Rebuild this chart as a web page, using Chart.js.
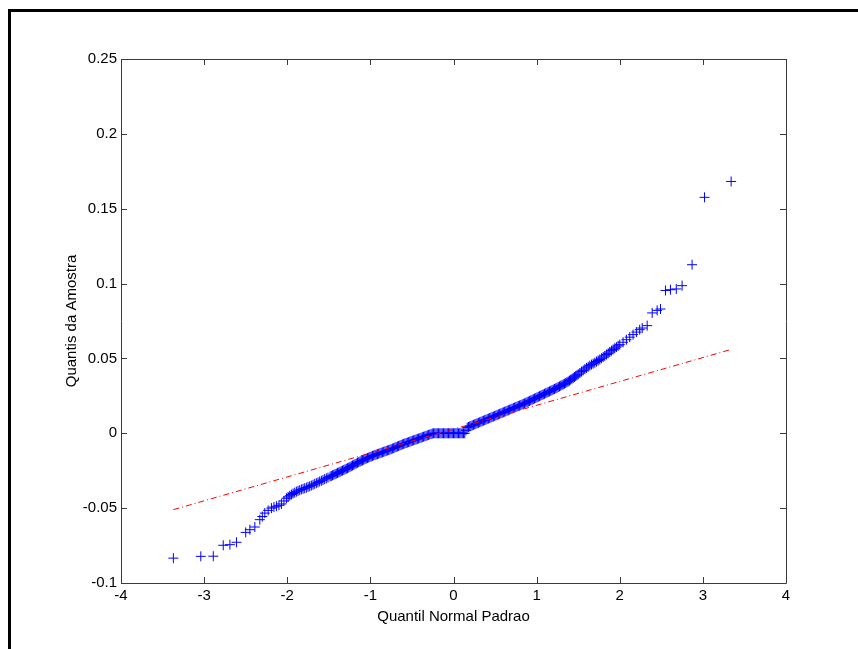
<!DOCTYPE html>
<html>
<head>
<meta charset="utf-8">
<title>Quantis da Amostra x Quantil Normal Padrao</title>
<script src="https://cdn.jsdelivr.net/npm/chart.js@4/dist/chart.umd.min.js"></script>
<style>
  html, body { margin: 0; padding: 0; background: #fff; }
  body { width: 858px; height: 649px; position: relative; overflow: hidden; }
  #frame {
    position: absolute; left: 8px; top: 9px; width: 900px; height: 700px;
    border-left: 3px solid #000; border-top: 3px solid #000;
  }
  #qq { position: absolute; left: 0; top: 0; }
</style>
</head>
<body>
<div id="frame"></div>
<canvas id="qq" width="858" height="649"></canvas>
<script>
// quantis da normal padrao (x) e quantis da amostra (y), por trecho da curva

// cauda inferior
var tailLowX = [
  -3.37, -3.04, -2.89, -2.77, -2.69, -2.61, -2.50, -2.45, -2.39, -2.33,
  -2.30, -2.27, -2.23, -2.19, -2.16, -2.13, -2.10, -2.07, -2.04, -2.01
];
var tailLowY = [
  -0.0834, -0.0822, -0.0821, -0.0748, -0.0744, -0.0728, -0.0662, -0.0644, -0.0626, -0.0577,
  -0.0556, -0.0533, -0.0515, -0.0500, -0.0493, -0.0487, -0.0481, -0.0472, -0.0452, -0.0434
];

var bandLowX = [
  -1.99, -1.97, -1.95, -1.93, -1.91, -1.89, -1.87, -1.85, -1.83, -1.81,
  -1.79, -1.77, -1.75, -1.73, -1.71, -1.69, -1.67, -1.65, -1.63, -1.61,
  -1.59, -1.57, -1.55, -1.53, -1.51
];
var bandLowY = [
  -0.0425, -0.0417, -0.0409, -0.0402, -0.0396, -0.0390, -0.0385, -0.0380, -0.0375, -0.0371,
  -0.0367, -0.0363, -0.0358, -0.0354, -0.0349, -0.0344, -0.0338, -0.0333, -0.0328, -0.0322,
  -0.0317, -0.0312, -0.0306, -0.0301, -0.0296
];

// miolo denso (inclui o patamar em zero)
var bandMidX = [
  -1.485, -1.470, -1.455, -1.440, -1.425, -1.410, -1.395, -1.380, -1.365, -1.350,
  -1.335, -1.320, -1.305, -1.290, -1.275, -1.260, -1.245, -1.230, -1.215, -1.200,
  -1.185, -1.170, -1.155, -1.140, -1.125, -1.110, -1.095, -1.080, -1.065, -1.050,
  -1.035, -1.020, -1.005, -0.990, -0.975, -0.960, -0.945, -0.930, -0.915, -0.900,
  -0.885, -0.870, -0.855, -0.840, -0.825, -0.810, -0.795, -0.780, -0.765, -0.750,
  -0.735, -0.720, -0.705, -0.690, -0.675, -0.660, -0.645, -0.630, -0.615, -0.600,
  -0.585, -0.570, -0.555, -0.540, -0.525, -0.510, -0.495, -0.480, -0.465, -0.450,
  -0.435, -0.420, -0.405, -0.390, -0.375, -0.360, -0.345, -0.330, -0.315, -0.300,
  -0.285, -0.270, -0.255, -0.240, -0.225, -0.210, -0.195, -0.180, -0.165, -0.150,
  -0.135, -0.120, -0.105, -0.090, -0.075, -0.060, -0.045, -0.030, -0.015, 0.000,
  0.015, 0.030, 0.045, 0.060, 0.075, 0.090, 0.105, 0.120, 0.135, 0.150,
  0.165, 0.180, 0.195, 0.210, 0.225, 0.240, 0.255, 0.270, 0.285, 0.300,
  0.315, 0.330, 0.345, 0.360, 0.375, 0.390, 0.405, 0.420, 0.435, 0.450,
  0.465, 0.480, 0.495, 0.510, 0.525, 0.540, 0.555, 0.570, 0.585, 0.600,
  0.615, 0.630, 0.645, 0.660, 0.675, 0.690, 0.705, 0.720, 0.735, 0.750,
  0.765, 0.780, 0.795, 0.810, 0.825, 0.840, 0.855, 0.870, 0.885, 0.900,
  0.915, 0.930, 0.945, 0.960, 0.975, 0.990, 1.005, 1.020, 1.035, 1.050,
  1.065, 1.080, 1.095, 1.110, 1.125, 1.140, 1.155, 1.170, 1.185, 1.200,
  1.215, 1.230, 1.245, 1.260, 1.275, 1.290, 1.305, 1.320, 1.335, 1.350,
  1.365, 1.380, 1.395, 1.410, 1.425, 1.440, 1.455, 1.470, 1.485, 1.500
];
var bandMidY = [
  -0.0289, -0.0285, -0.0281, -0.0277, -0.0273, -0.0269, -0.0265, -0.0261, -0.0257, -0.0253,
  -0.0249, -0.0245, -0.0241, -0.0237, -0.0233, -0.0229, -0.0224, -0.0220, -0.0215, -0.0211,
  -0.0206, -0.0202, -0.0197, -0.0193, -0.0189, -0.0185, -0.0181, -0.0177, -0.0173, -0.0169,
  -0.0165, -0.0162, -0.0158, -0.0155, -0.0151, -0.0148, -0.0145, -0.0142, -0.0139, -0.0136,
  -0.0133, -0.0130, -0.0127, -0.0124, -0.0121, -0.0118, -0.0115, -0.0112, -0.0109, -0.0106,
  -0.0102, -0.0099, -0.0095, -0.0092, -0.0088, -0.0085, -0.0081, -0.0078, -0.0074, -0.0071,
  -0.0068, -0.0065, -0.0062, -0.0059, -0.0056, -0.0053, -0.0050, -0.0047, -0.0044, -0.0041,
  -0.0038, -0.0035, -0.0032, -0.0029, -0.0026, -0.0023, -0.0020, -0.0017, -0.0014, -0.0011,
  -0.0008, -0.0005, -0.0002, 0, 0, 0, 0, 0, 0, 0,
  0, 0, 0, 0, 0, 0, 0, 0, 0, 0,
  0, 0, 0, 0, 0, 0, 0, 0, 0, 0.0020,
  0.0038, 0.0042, 0.0046, 0.0049, 0.0053, 0.0056, 0.0060, 0.0063, 0.0067, 0.0070,
  0.0074, 0.0077, 0.0081, 0.0084, 0.0088, 0.0091, 0.0095, 0.0098, 0.0102, 0.0105,
  0.0109, 0.0112, 0.0116, 0.0119, 0.0123, 0.0126, 0.0130, 0.0133, 0.0137, 0.0140,
  0.0144, 0.0147, 0.0151, 0.0154, 0.0158, 0.0161, 0.0165, 0.0168, 0.0172, 0.0175,
  0.0179, 0.0182, 0.0186, 0.0189, 0.0193, 0.0196, 0.0200, 0.0204, 0.0208, 0.0212,
  0.0216, 0.0220, 0.0224, 0.0228, 0.0232, 0.0236, 0.0240, 0.0244, 0.0248, 0.0252,
  0.0256, 0.0260, 0.0264, 0.0268, 0.0272, 0.0276, 0.0280, 0.0284, 0.0288, 0.0292,
  0.0296, 0.0300, 0.0304, 0.0309, 0.0313, 0.0318, 0.0322, 0.0327, 0.0331, 0.0336,
  0.0341, 0.0346, 0.0352, 0.0358, 0.0364, 0.0370, 0.0376, 0.0382, 0.0388, 0.0394
];

var bandHighX = [
  1.52, 1.54, 1.56, 1.58, 1.60, 1.62, 1.64, 1.66, 1.68, 1.70,
  1.72, 1.74, 1.76, 1.78, 1.80, 1.82, 1.84, 1.86, 1.88, 1.90,
  1.92, 1.94, 1.96, 1.98, 2.00
];
var bandHighY = [
  0.0403, 0.0412, 0.0420, 0.0429, 0.0437, 0.0444, 0.0452, 0.0459, 0.0465, 0.0472,
  0.0479, 0.0486, 0.0493, 0.0501, 0.0509, 0.0517, 0.0526, 0.0534, 0.0543, 0.0552,
  0.0560, 0.0568, 0.0576, 0.0584, 0.0592
];

// cauda superior
var tailHighX = [
  2.04, 2.08, 2.12, 2.16, 2.20, 2.24, 2.27, 2.33, 2.39, 2.45,
  2.49, 2.55, 2.61, 2.68, 2.75, 2.87, 3.02, 3.34
];
var tailHighY = [
  0.0608, 0.0625, 0.0642, 0.0659, 0.0676, 0.0692, 0.0703, 0.0719, 0.0804, 0.0821,
  0.0830, 0.0954, 0.0959, 0.0964, 0.0986, 0.1126, 0.1576, 0.1682
];

// reta de referencia (quartis), traco-ponto vermelho
var refLineX = [-3.37, 3.34];
var refLineY = [-0.051, 0.056];

var xTicks = [-4, -3, -2, -1, 0, 1, 2, 3, 4];
var xTickLabels = ["-4", "-3", "-2", "-1", "0", "1", "2", "3", "4"];
var yTicks = [-0.1, -0.05, 0, 0.05, 0.1, 0.15, 0.2, 0.25];
var yTickLabels = ["-0.1", "-0.05", "0", "0.05", "0.1", "0.15", "0.2", "0.25"];

var FONT = "'Liberation Sans', Arial, Helvetica, sans-serif";
var FONT_SIZE = 15;
var AXIS = "#3a3a3a";

function pairs(xs, ys) {
  return xs.map(function (x, i) { return { x: x, y: ys[i] }; });
}

var normalQ = [].concat(tailLowX, bandLowX, bandMidX, bandHighX, tailHighX);
var sampleQ = [].concat(tailLowY, bandLowY, bandMidY, bandHighY, tailHighY);

// caixa do eixo com marcas de escala para dentro, nos quatro lados
var boxAxes = {
  id: "boxAxes",
  afterDraw: function (chart) {
    var a = chart.chartArea;
    var ctx = chart.ctx;
    var xs = chart.scales.x, ys = chart.scales.y;
    var tl = 6;
    ctx.save();
    ctx.strokeStyle = AXIS;
    ctx.lineWidth = 1;
    ctx.beginPath();
    ctx.rect(Math.round(a.left) + 0.5, Math.round(a.top) + 0.5,
      Math.round(a.right - a.left), Math.round(a.bottom - a.top));
    xTicks.forEach(function (v) {
      var px = Math.round(xs.getPixelForValue(v)) + 0.5;
      ctx.moveTo(px, a.bottom); ctx.lineTo(px, a.bottom - tl);
      ctx.moveTo(px, a.top); ctx.lineTo(px, a.top + tl);
    });
    yTicks.forEach(function (v) {
      var py = Math.round(ys.getPixelForValue(v)) + 0.5;
      ctx.moveTo(a.left, py); ctx.lineTo(a.left + tl, py);
      ctx.moveTo(a.right, py); ctx.lineTo(a.right - tl, py);
    });
    ctx.stroke();
    ctx.restore();
  }
};

new Chart(document.getElementById("qq"), {
  type: "scatter",
  data: {
    datasets: [
      {
        type: "line",
        data: pairs(refLineX, refLineY),
        borderColor: "#ff0000",
        borderWidth: 1,
        borderDash: [6, 3, 1, 3],
        pointRadius: 0,
        fill: false
      },
      {
        data: pairs(normalQ, sampleQ),
        pointStyle: "cross",
        pointRadius: 5,
        pointBorderWidth: 1,
        borderColor: "#0000ff",
        backgroundColor: "#0000ff"
      }
    ]
  },
  options: {
    responsive: false,
    animation: false,
    devicePixelRatio: 1,
    layout: { padding: { left: 0, top: 59, right: 72, bottom: 0 } },
    plugins: { legend: { display: false }, tooltip: { enabled: false } },
    scales: {
      x: {
        type: "linear",
        min: -4, max: 4,
        grid: { display: false, drawTicks: false },
        border: { display: false },
        afterBuildTicks: function (s) { s.ticks = xTicks.map(function (v) { return { value: v }; }); },
        afterFit: function (s) { s.height = 66; },
        ticks: {
          color: "#000",
          padding: 4,
          maxRotation: 0,
          autoSkip: false,
          font: { family: FONT, size: FONT_SIZE },
          callback: function (v, i) { return xTickLabels[i]; }
        },
        title: {
          display: true,
          text: "Quantil Normal Padrao",
          color: "#000",
          font: { family: FONT, size: FONT_SIZE },
          padding: { top: 0, bottom: 23 }
        }
      },
      y: {
        type: "linear",
        min: -0.1, max: 0.25,
        grid: { display: false, drawTicks: false },
        border: { display: false },
        afterBuildTicks: function (s) { s.ticks = yTicks.map(function (v) { return { value: v }; }); },
        afterFit: function (s) { s.width = 121; },
        ticks: {
          color: "#000",
          padding: 4,
          autoSkip: false,
          font: { family: FONT, size: FONT_SIZE },
          callback: function (v, i) { return yTickLabels[i]; }
        },
        title: {
          display: true,
          text: "Quantis da Amostra",
          color: "#000",
          font: { family: FONT, size: FONT_SIZE },
          padding: { top: 63, bottom: 0 }
        }
      }
    }
  },
  plugins: [boxAxes]
});
</script>
</body>
</html>
